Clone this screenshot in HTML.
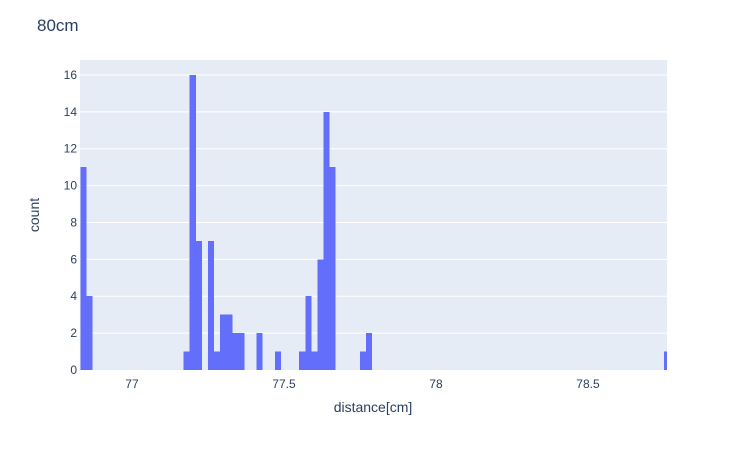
<!DOCTYPE html>
<html><head><meta charset="utf-8"><style>
body{margin:0;background:#fff;font-family:"Liberation Sans",Arial,sans-serif;}
svg text{font-family:"Liberation Sans",Arial,sans-serif;fill:#2a3f5f;}
</style></head><body>
<svg id="c" width="747" height="450">
<rect x="0" y="0" width="747" height="450" fill="#fff"/>
<text x="37" y="31" font-size="17">80cm</text>
<rect x="80" y="60" width="587" height="310" fill="#e5ecf6"/>
<g id="grid"></g><g id="bars" shape-rendering="crispEdges"></g><g id="ticks"></g>
<text x="373" y="412" font-size="14" text-anchor="middle">distance[cm]</text>
<text x="39" y="215" font-size="14" text-anchor="middle" transform="rotate(-90 39 215)">count</text>
</svg>
<script>
const binStart = 76.83;
const binWidth = 0.02;
const binIndices = [0,1,17,18,19,21,22,23,24,25,26,29,32,36,37,38,39,40,41,46,47,96];
const binCounts  = [11,4,1,16,7,7,1,3,3,2,2,2,1,1,4,1,6,14,11,1,2,1];
const xTicks = [77,77.5,78,78.5];
const xTickLabels = ["77","77.5","78","78.5"];
const yTicks = [0,2,4,6,8,10,12,14,16];
const X0=80,X1=667,Y0=370,Y1=60, xMin=76.829, xMax=78.76, yMax=16.81;
const NS="http://www.w3.org/2000/svg";
function xs(v){return X0+(v-xMin)/(xMax-xMin)*(X1-X0);}
function ys(v){return Y0-v/yMax*(Y0-Y1);}
const grid=document.getElementById('grid'),bars=document.getElementById('bars'),ticks=document.getElementById('ticks');
yTicks.forEach(t=>{
  if(t>0){const l=document.createElementNS(NS,'line');
  l.setAttribute('x1',X0);l.setAttribute('x2',X1);l.setAttribute('y1',ys(t));l.setAttribute('y2',ys(t));
  l.setAttribute('stroke','#fff');l.setAttribute('stroke-width','1');
  
  
  grid.appendChild(l);}
  const tx=document.createElementNS(NS,'text');
  tx.setAttribute('x',X0-3);tx.setAttribute('y',ys(t)+4);tx.setAttribute('font-size','12');tx.setAttribute('text-anchor','end');
  tx.textContent=String(t);
  
  
  ticks.appendChild(tx);
});
xTicks.forEach((t,i)=>{
  const tx=document.createElementNS(NS,'text');
  tx.setAttribute('x',xs(t));tx.setAttribute('y',Y0+18);tx.setAttribute('font-size','12');tx.setAttribute('text-anchor','middle');
  tx.textContent=xTickLabels[i];
  
  
  ticks.appendChild(tx);
});
binIndices.forEach((k,i)=>{
  const a=Math.max(xs(binStart+k*binWidth),X0), b=Math.min(xs(binStart+(k+1)*binWidth),X1);
  const r=document.createElementNS(NS,'rect');
  r.setAttribute('x',a);r.setAttribute('width',Math.max(0,b-a));
  r.setAttribute('y',ys(binCounts[i]));r.setAttribute('height',Y0-ys(binCounts[i]));
  r.setAttribute('fill','#636efa');
  
  
  bars.appendChild(r);
});
</script>
</body></html>
